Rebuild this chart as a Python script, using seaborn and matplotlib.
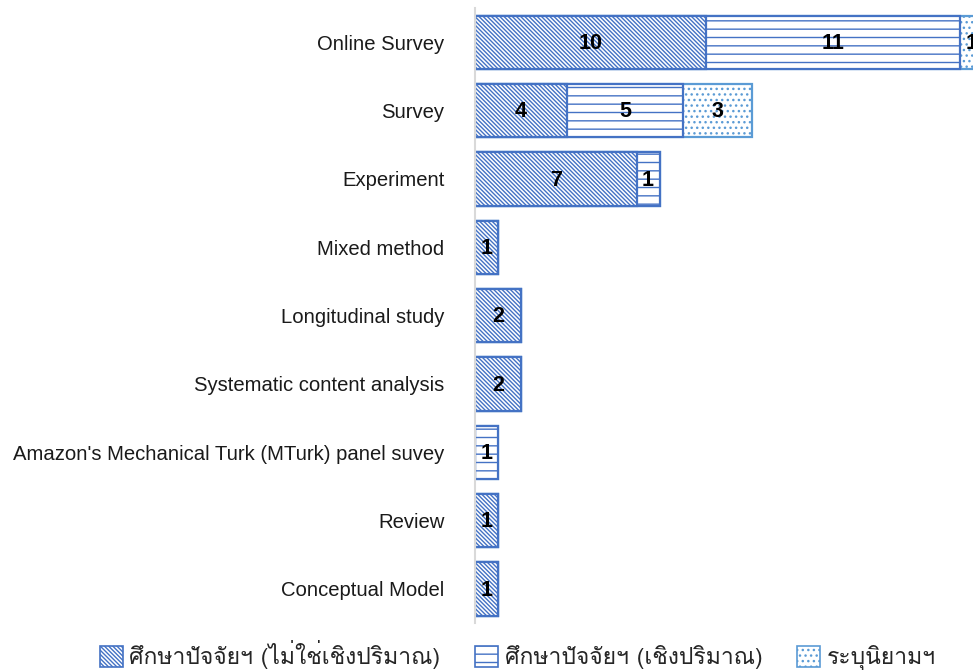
import matplotlib
matplotlib.use("Agg")
import matplotlib.pyplot as plt
from matplotlib import font_manager
from matplotlib.patches import Patch
import seaborn as sns
import pandas as pd
import numpy as np

categories = ["Online Survey", "Survey", "Experiment", "Mixed method",
              "Longitudinal study", "Systematic content analysis",
              "Amazon's Mechanical Turk (MTurk) panel suvey", "Review",
              "Conceptual Model"]
non_quant = [10, 4, 7, 1, 2, 2, 0, 1, 1]
quant = [11, 5, 1, 0, 0, 0, 1, 0, 0]
define = [1, 3, 0, 0, 0, 0, 0, 0, 0]
series_names = ["ศึกษาปัจจัยฯ (ไม่ใช่เชิงปริมาณ)", "ศึกษาปัจจัยฯ (เชิงปริมาณ)", "ระบุนิยามฯ"]

# find a font with Thai glyphs
thai_font = None
try:
    from fontTools.ttLib import TTFont
    for f in font_manager.fontManager.ttflist:
        try:
            tt = TTFont(f.fname, fontNumber=0, lazy=True)
            cmap = tt.getBestCmap()
            if cmap and 0x0E28 in cmap and 0x0E01 in cmap:
                thai_font = f.name
                break
        except Exception:
            pass
except Exception:
    pass

sns.set_theme(style="white")
plt.rcParams['font.family'] = ['Liberation Sans', 'DejaVu Sans']
plt.rcParams['hatch.linewidth'] = 1.0

df = pd.DataFrame({"cat": categories, "a": non_quant, "b": quant, "c": define})
df["ab"] = df["a"] + df["b"]
df["abc"] = df["ab"] + df["c"]

fig = plt.figure(figsize=(9.73, 6.70), dpi=100)
ax = fig.add_axes([0.488, 0.070, 0.512, 0.918])

blue = "#4472C4"
light = "#5B9BD5"
hatch_a = "\\\\\\\\\\\\\\\\"
hatch_b = "--"
hatch_c = "..."
layers = [("abc", hatch_c, light), ("ab", hatch_b, blue), ("a", hatch_a, blue)]
for col, hatch, ec in layers:
    sns.barplot(data=df, x=col, y="cat", order=categories, orient="h",
                color="white", edgecolor=ec, linewidth=1.6, hatch=hatch,
                width=0.78, ax=ax, saturation=1)

# labels
for i, cat in enumerate(categories):
    left = 0
    for v in (non_quant[i], quant[i], define[i]):
        if v > 0:
            ax.text(left + v / 2, i + 0.02, str(v), ha="center", va="center",
                    fontsize=15.5, fontweight="bold", color="black",
                    family=['Liberation Sans', 'DejaVu Sans'])
        left += v

ax.set_xlim(0, 21.56)
ax.set_ylim(8.5, -0.5)
ax.set_xlabel("")
ax.set_ylabel("")
ax.set_xticks([])
for s in ["top", "right", "bottom"]:
    ax.spines[s].set_visible(False)
ax.spines["left"].set_color("#D9D9D9")
ax.spines["left"].set_linewidth(1.5)
ax.tick_params(axis="y", length=0, pad=22, labelsize=14.6, labelcolor="#1a1a1a")

handles = [Patch(facecolor="white", edgecolor=blue, hatch=hatch_a, linewidth=1.2),
           Patch(facecolor="white", edgecolor=blue, hatch=hatch_b, linewidth=1.2),
           Patch(facecolor="white", edgecolor=light, hatch=hatch_c, linewidth=1.2)]
fam = [thai_font, 'DejaVu Sans'] if thai_font else ['DejaVu Sans']
leg = fig.legend(handles, series_names, loc="center", bbox_to_anchor=(0.532, 0.022),
                 ncol=3, frameon=False, handlelength=1.0, handleheight=1.0,
                 handletextpad=0.3, columnspacing=1.5,
                 prop={"family": fam, "size": 16.5})

fig.savefig("out.png", dpi=100)
